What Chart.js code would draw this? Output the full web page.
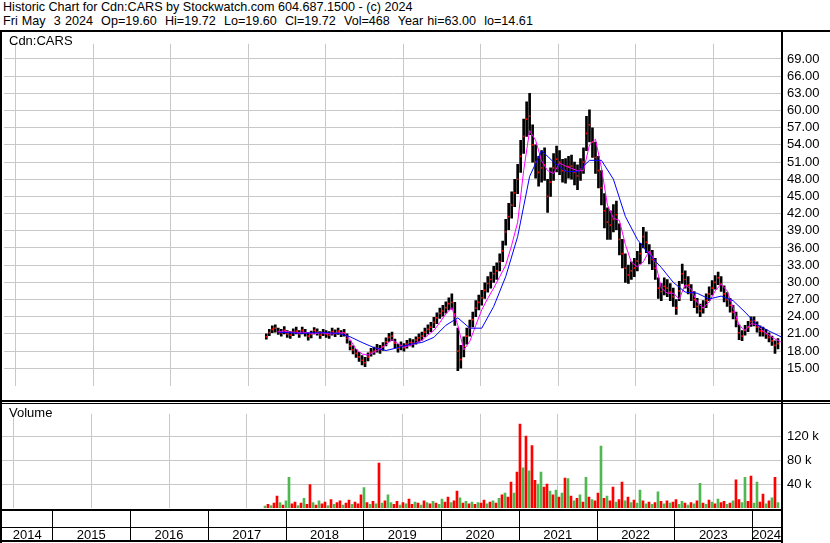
<!DOCTYPE html>
<html>
<head>
<meta charset="utf-8">
<script src="https://cdn.jsdelivr.net/npm/chart.js@4.4.1/dist/chart.umd.min.js"></script>
<style>
  html, body { margin: 0; padding: 0; background: #fff; }
  body { width: 830px; height: 543px; position: relative; overflow: hidden;
         font-family: "Liberation Sans", Arial, sans-serif; }
  .head { position: absolute; left: 3px; font-size: 12.6px; line-height: 14px;
          white-space: pre; color: #000; }
  #head1 { top: 0; }
  #head2 { top: 14px; word-spacing: 0.6px; }
  canvas { position: absolute; left: 0; }
  #priceChart { top: 30px; }
  #volChart { top: 400px; }
  .pane-label { position: absolute; left: 9px; font-size: 13px; line-height: 14px; color: #000; z-index: 2; }
</style>
</head>
<body>
<div class="head" id="head1">Historic Chart for Cdn:CARS by Stockwatch.com 604.687.1500 - (c) 2024</div>
<div class="head" id="head2">Fri May  3 2024  Op=19.60  Hi=19.72  Lo=19.60  Cl=19.72  Vol=468  Year hi=63.00  lo=14.61</div>
<div class="pane-label" style="top:34px">Cdn:CARS</div>
<div class="pane-label" style="top:406px">Volume</div>
<canvas id="priceChart" width="830" height="370"></canvas>
<canvas id="volChart" width="830" height="143"></canvas>
<script>
// samples every ~2 weeks, first one in Sept 2017
const firstSample = 2017.734
const sampleStep = 0.03858

const yearTicks = [2015, 2016, 2017, 2018, 2019, 2020, 2021, 2022, 2023, 2024]
const yearLabels = ['2014', '2015', '2016', '2017', '2018', '2019', '2020', '2021', '2022', '2023', '2024']
const priceTicks = [15, 18, 21, 24, 27, 30, 33, 36, 39, 42, 45, 48, 51, 54, 57, 60, 63, 66, 69]
const volTicks = [40, 80, 120]

const priceLow = [
  20.1, 20.7, 21.2, 21.3, 20.9, 20.6, 21.0, 20.4, 20.2, 20.7,
  21.0, 20.4, 21.0, 20.6, 19.9, 20.3, 21.0, 20.8, 20.2, 20.7,
  20.4, 20.2, 20.8, 20.5, 20.9, 20.5, 20.6, 19.4, 18.2, 17.5,
  16.9, 16.2, 15.6, 15.3, 16.3, 17.1, 17.4, 17.8, 17.6, 18.1,
  18.9, 19.7, 19.8, 18.6, 17.8, 18.2, 18.0, 18.5, 18.9, 18.7,
  19.2, 19.6, 19.9, 20.5, 21.0, 21.4, 22.1, 22.8, 23.7, 24.1,
  24.6, 25.2, 25.3, 22.5, 14.6, 15.0, 17.0, 19.2, 20.6, 22.2,
  24.0, 25.2, 26.0, 27.2, 28.3, 29.0, 30.0, 30.5, 32.0, 33.6,
  36.5, 39.2, 41.2, 43.2, 45.5, 49.2, 52.5, 55.5, 55.8, 51.0,
  48.2, 46.8, 47.5, 47.8, 42.2, 45.0, 47.8, 49.3, 48.8, 47.5,
  47.3, 48.2, 48.0, 47.0, 46.2, 47.8, 49.0, 53.0, 54.5, 51.8,
  49.0, 46.5, 43.5, 39.5, 37.5, 37.5, 38.8, 39.2, 34.8, 32.5,
  30.0, 29.8, 30.5, 31.0, 32.0, 33.2, 36.0, 35.2, 33.2, 32.2,
  30.5, 27.2, 26.8, 27.8, 27.5, 26.8, 25.8, 24.4, 26.8, 29.8,
  29.0, 28.0, 26.8, 25.6, 24.6, 24.0, 24.6, 25.6, 26.8, 27.8,
  28.8, 29.6, 28.4, 26.6, 25.8, 24.8, 23.6, 22.2, 20.0, 19.8,
  20.8, 21.4, 22.3, 22.4, 21.3, 20.6, 20.6, 20.2, 19.6, 19.0,
  17.6, 18.4
]
const priceHigh = [
  21.0, 21.8, 22.4, 22.6, 22.0, 21.8, 22.3, 21.6, 21.4, 21.9,
  22.2, 21.6, 22.2, 21.8, 21.2, 21.5, 22.1, 21.9, 21.4, 21.8,
  21.6, 21.4, 22.0, 21.7, 22.0, 21.6, 21.8, 21.0, 19.8, 18.9,
  18.3, 17.8, 17.2, 16.9, 17.7, 18.5, 18.7, 19.2, 19.0, 19.5,
  20.3, 21.1, 21.3, 20.1, 19.2, 19.6, 19.3, 19.9, 20.2, 20.0,
  20.5, 21.0, 21.3, 22.0, 22.6, 23.0, 23.9, 24.7, 25.5, 26.0,
  26.6, 27.3, 28.0, 26.5, 22.0, 19.0, 20.5, 22.0, 23.4, 24.8,
  26.8, 27.8, 28.6, 29.9, 31.0, 31.8, 32.8, 33.4, 35.0, 37.2,
  41.0, 43.8, 45.8, 48.0, 50.6, 54.8, 58.5, 61.5, 63.0, 57.5,
  54.0, 52.0, 53.0, 53.5, 48.0, 50.0, 52.5, 53.8, 53.0, 51.5,
  51.6, 52.0, 52.2, 51.0, 50.5, 51.6, 53.5, 59.0, 60.1, 57.0,
  54.5, 52.0, 49.5, 45.5, 43.0, 42.5, 43.6, 44.2, 40.2, 37.5,
  35.0, 33.0, 33.6, 34.2, 35.4, 36.8, 39.6, 38.8, 36.6, 35.6,
  34.2, 30.8, 29.8, 30.8, 30.5, 29.8, 29.0, 27.0, 30.2, 33.2,
  32.0, 31.0, 29.6, 28.4, 27.2, 26.2, 26.8, 28.0, 29.2, 30.3,
  31.2, 31.8, 31.0, 29.4, 28.2, 27.2, 26.0, 24.8, 22.6, 21.6,
  22.5, 23.2, 24.0, 24.0, 23.1, 22.4, 22.2, 21.8, 21.2, 20.6,
  19.8, 20.2
]
const priceClose = [
  20.5, 21.2, 21.8, 22.0, 21.4, 21.2, 21.6, 21.0, 20.8, 21.3,
  21.5, 21.0, 21.6, 21.2, 20.6, 20.9, 21.6, 21.3, 20.8, 21.2,
  21.0, 20.8, 21.4, 21.1, 21.5, 21.0, 21.2, 20.2, 18.9, 18.2,
  17.6, 17.0, 16.4, 16.0, 17.0, 17.8, 18.0, 18.5, 18.3, 18.8,
  19.6, 20.4, 20.6, 19.4, 18.5, 18.9, 18.6, 19.2, 19.5, 19.4,
  19.9, 20.3, 20.6, 21.3, 21.8, 22.2, 23.0, 23.8, 24.6, 25.0,
  25.6, 26.3, 26.5, 24.5, 18.0, 16.5, 18.8, 20.6, 22.0, 23.5,
  25.5, 26.5, 27.3, 28.6, 29.8, 30.5, 31.5, 32.0, 33.6, 35.5,
  38.8, 41.5, 43.5, 45.6, 48.0, 52.0, 55.5, 58.5, 59.0, 54.0,
  51.0, 49.2, 50.0, 50.5, 45.0, 47.5, 50.0, 51.5, 51.0, 49.5,
  49.5, 50.2, 50.3, 49.2, 48.6, 49.8, 51.0, 56.0, 57.5, 54.5,
  51.8, 49.5, 46.5, 42.5, 40.5, 40.0, 41.0, 41.8, 37.5, 35.0,
  32.5, 31.3, 32.0, 32.5, 33.7, 35.0, 38.0, 37.0, 35.0, 34.0,
  32.5, 29.0, 28.4, 29.3, 29.0, 28.3, 27.5, 25.5, 28.5, 31.5,
  30.5, 29.5, 28.2, 27.0, 25.8, 25.0, 25.6, 26.8, 28.0, 29.0,
  30.0, 30.8, 29.8, 28.0, 27.0, 26.0, 24.8, 23.5, 21.2, 20.6,
  21.6, 22.2, 23.2, 23.3, 22.2, 21.5, 21.4, 21.0, 20.4, 19.8,
  19.0, 19.3
]

// short average (magenta), one value every 2nd sample from sample 4
const maShort = [
  21.4, 21.5, 21.3, 21.2, 21.3, 21.2, 21.0, 21.2, 21.1, 21.0,
  21.2, 21.2, 20.0, 18.3, 17.5, 17.3, 17.8, 18.4, 19.1, 20.0,
  19.3, 18.7, 19.0, 19.4, 19.9, 20.8, 21.6, 23.0, 24.5, 25.6,
  22.5, 18.2, 19.7, 22.5, 25.2, 27.2, 29.0, 31.0, 33.0, 36.5,
  40.5, 49.5, 56.5, 54.8, 51.2, 49.5, 49.0, 50.8, 50.3, 49.9,
  49.5, 49.5, 54.0, 55.0, 50.0, 43.5, 41.2, 40.8, 36.6, 33.5,
  32.7, 33.6, 35.5, 33.5, 29.0, 28.1, 28.1, 27.1, 29.6, 28.8,
  26.5, 25.5, 26.6, 28.5, 29.7, 28.5, 25.6, 22.5, 21.6, 22.8,
  22.6, 21.5, 20.8, 20.1, 19.6
]
// long average (blue), one value every 4th sample from sample 4
const maLong = [
  21.3, 21.2, 21.1, 21.2, 21.2, 21.1, 20.5, 19.5, 18.6, 18.1,
  18.6, 19.2, 19.5, 20.4, 22.5, 23.8, 22.0, 22.0, 25.8, 31.0,
  38.0, 48.5, 53.0, 51.0, 49.4, 49.3, 51.3, 51.3, 48.0, 41.5,
  37.5, 34.8, 32.6, 30.0, 28.3, 28.1, 27.1, 27.6, 26.8, 24.8,
  22.6, 21.5, 20.5
]

// volume in thousands, g = up, r = down
const volume = [
  3, 6, 4, 8, 20, 9, 5, 12, 51, 7,
  10, 4, 8, 16, 6, 39, 9, 5, 12, 7,
  10, 4, 14, 6, 9, 12, 5, 8, 13, 6,
  10, 7, 22, 34, 9, 6, 11, 7, 75, 8,
  12, 22, 9, 6, 11, 5, 9, 7, 15, 6,
  10, 8, 5, 12, 9, 7, 11, 8, 6, 15,
  10, 18, 9, 12, 28, 17, 8, 11, 7, 10,
  6, 9, 8, 13, 7, 10, 12, 8, 16, 22,
  25, 18, 43, 25, 60, 140, 67, 120, 62, 104,
  46, 40, 60, 35, 40, 28, 22, 30, 18, 25,
  50, 49, 20, 12, 16, 22, 10, 51, 18, 14,
  12, 25, 103, 16, 20, 12, 35, 10, 14, 43,
  12, 18, 9, 13, 8, 30, 12, 7, 10, 6,
  9, 27, 11, 7, 12, 8, 10, 14, 6, 11,
  8, 5, 9, 7, 12, 41, 8, 6, 13, 10,
  7, 15, 9, 11, 6, 8, 12, 47, 14, 9,
  51, 11, 53, 8, 43, 10, 23, 7, 12, 17,
  51, 9
]
const volDir =
  'grgrrgrggr' + 'rgrgrrgrgr' + 'rgrgrrgrrg' + 'rrrgrgrgrg' + 'rggrrgrgrr' +
  'grgrgrgrgg' + 'rrgrrgrgrg' + 'rgrrgrgrgr' + 'grrgrrgrgr' + 'rggrrgrgrg' +
  'rgrgrgrgrg' + 'rrgrgrrgrr' + 'grgrggrgrg' + 'rgrgrgrrgg' + 'rgrgrgrgrg' +
  'rgrrgrgrrg' + 'grrggrrgrg' + 'rg'

const xMin = 2014.352
const xMax = 2024.37
const font13 = { family: '"Liberation Sans", Arial, sans-serif', size: 13 }
const gridGrey = '#c8c8c8'
const upGreen = '#50b850'

const sampleDate = i => firstSample + i * sampleStep

const barData = priceLow.map((lo, i) => ({ x: sampleDate(i), y: [lo, priceHigh[i]] }))
const closeData = priceClose.map((c, i) => ({ x: sampleDate(i), y: c }))
const shortData = maShort.map((v, k) => ({ x: sampleDate(4 + k * 2), y: v }))
const longData = maLong.map((v, k) => ({ x: sampleDate(4 + k * 4), y: v }))
const volData = volume.map((v, i) => ({ x: sampleDate(i), y: v }))
const volColors = volume.map((v, i) => volDir[i] === 'g' ? upGreen : '#ff0000')

function xAxis() {
  return {
    type: 'linear',
    min: xMin,
    max: xMax,
    offset: false,
    afterBuildTicks: s => { s.ticks = yearTicks.map(v => ({ value: v })) },
    afterFit: s => { s.height = 0 },
    ticks: { display: false },
    grid: { color: gridGrey, drawTicks: false },
    border: { display: false },
  }
}

const priceFrame = {
  id: 'priceFrame',
  afterDraw(chart) {
    const { ctx, chartArea } = chart
    ctx.save()
    ctx.fillStyle = '#000'
    ctx.fillRect(0, 0, chart.width, 2)
    ctx.fillRect(0, 0, 2, chart.height)
    ctx.fillRect(chartArea.right, 0, 2, chart.height)
    ctx.restore()
  }
}

const volFrame = {
  id: 'volFrame',
  afterDraw(chart) {
    const { ctx, chartArea } = chart
    const x = chart.scales.x
    const b = chartArea.bottom
    ctx.save()
    ctx.fillStyle = '#000'
    ctx.fillRect(0, 0, chart.width, 2)
    ctx.fillRect(0, 3, chart.width, 1)
    ctx.fillRect(0, 0, 2, chart.height)
    ctx.fillRect(chartArea.right, 0, 2, chart.height)
    ctx.fillRect(0, b + 1, chartArea.right, 2)
    ctx.fillRect(0, b + 19, chartArea.right, 1)
    ctx.fillRect(0, chart.height - 3, chartArea.right, 2)
    yearTicks.forEach(v => {
      const px = Math.round(x.getPixelForValue(v))
      ctx.fillRect(px, b + 1, 1, chart.height - b - 3)
    })
    ctx.font = '13px "Liberation Sans", Arial, sans-serif'
    ctx.textAlign = 'center'
    ctx.textBaseline = 'middle'
    yearLabels.forEach((lab, k) => {
      const y0 = Math.max(xMin, 2014 + k)
      const y1 = Math.min(xMax, 2015 + k)
      const cx = (x.getPixelForValue(y0) + x.getPixelForValue(y1)) / 2
      ctx.fillText(lab, cx, chart.height - 8)
    })
    ctx.restore()
  }
}

new Chart(document.getElementById('priceChart'), {
  type: 'bar',
  data: {
    datasets: [
      { type: 'line', data: longData, borderColor: '#0000ff', borderWidth: 1, pointRadius: 0, order: 0 },
      { type: 'line', data: shortData, borderColor: '#ff00ff', borderWidth: 1, pointRadius: 0, order: 1 },
      { type: 'line', data: closeData, showLine: false, pointStyle: 'rect', pointRadius: 1.2,
        pointBorderWidth: 0, pointBackgroundColor: '#ff0000', order: 2 },
      { data: barData, backgroundColor: '#000000', barThickness: 2, order: 3 },
    ]
  },
  options: {
    responsive: false,
    animation: false,
    devicePixelRatio: 1,
    layout: { padding: { left: 2, top: 2, right: 0, bottom: 0 } },
    plugins: { legend: { display: false }, tooltip: { enabled: false } },
    scales: {
      x: xAxis(),
      y: {
        position: 'right',
        min: 11.87,
        max: 71.65,
        afterBuildTicks: s => { s.ticks = priceTicks.map(v => ({ value: v })) },
        afterFit: s => { s.width = 49 },
        ticks: { color: '#000', font: font13, padding: 6, callback: v => v.toFixed(2) },
        grid: { color: gridGrey, drawTicks: false },
        border: { display: false },
      }
    }
  },
  plugins: [priceFrame]
})

new Chart(document.getElementById('volChart'), {
  type: 'bar',
  data: {
    datasets: [
      { data: volData, backgroundColor: volColors, barThickness: 2 },
    ]
  },
  options: {
    responsive: false,
    animation: false,
    devicePixelRatio: 1,
    layout: { padding: { left: 2, top: 4, right: 0, bottom: 35 } },
    plugins: { legend: { display: false }, tooltip: { enabled: false } },
    scales: {
      x: xAxis(),
      y: {
        position: 'right',
        min: 0,
        max: 157,
        afterBuildTicks: s => { s.ticks = volTicks.map(v => ({ value: v })) },
        afterFit: s => { s.width = 49 },
        ticks: { color: '#000', font: font13, padding: 6, callback: v => v + ' k' },
        grid: { color: gridGrey, drawTicks: false },
        border: { display: false },
      }
    }
  },
  plugins: [volFrame]
})
</script>
</body>
</html>
